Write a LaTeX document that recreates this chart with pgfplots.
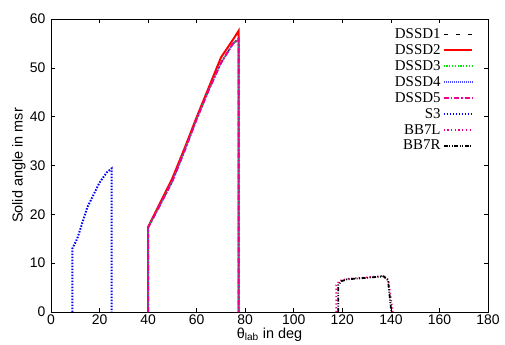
\documentclass[border=0pt]{standalone}
\usepackage{fontspec}
\setmainfont{Liberation Sans}
\newfontfamily\legserif{Liberation Serif}
\usepackage{pgfplots}
\pgfplotsset{compat=1.18}
\begin{document}
\begin{tikzpicture}
\begin{axis}[
  at={(0,0)}, anchor=south west,
  scale only axis, width=437bp, height=293bp,
  xmin=0, xmax=180, ymin=0, ymax=60,
  xtick={0,20,...,180}, ytick={0,10,...,60},
  tick align=inside, major tick length=4bp,
  tick style={black, line width=0.6pt},
  axis line style={line width=0.9pt},
  /pgf/number format/assume math mode=true,
  tick label style={font=\fontsize{14}{15}\selectfont},
  xticklabel style={yshift=1bp},
  yticklabel style={xshift=-2bp},
  label style={font=\fontsize{14.5}{16}\selectfont},
  xlabel={θ\textsubscript{lab} in deg},
  ylabel={Solid angle in msr},
  xlabel style={at={(axis description cs:0.5,0)}, anchor=base, yshift=-26bp},
  ylabel style={at={(axis description cs:0,0.5)}, anchor=center, rotate=0, xshift=0bp, yshift=32bp},
  clip=true,
  legend plot pos=right,
  legend cell align=right,
  legend image code/.code={\draw[#1] (0cm,0cm) -- (1cm,0cm);},
  legend style={draw=none, fill=none, at={(0.966,0.975)}, anchor=north east,
    font=\legserif\fontsize{15}{16}\selectfont,
    row sep=0.6pt, inner sep=0pt},
]
% DSSD1
\addplot[color=black, line width=1.2pt, dash pattern=on 4bp off 8bp] coordinates {
(40,0) (40,17.3) (45,22) (50,26.8) (55,33) (60,39.5) (65,45.5) (70,51) (75,55) (77.3,55.9) (77.3,0)};
\addlegendentry{DSSD1}
% DSSD2
\addplot[color=red, line width=2pt] coordinates {
(40,0) (40,17.4) (45,22.4) (50,27.4) (55,33.5) (60,39.9) (65,46.0) (70,52.1) (75,55.8) (77.3,57.6) (77.3,0)};
\addlegendentry{DSSD2}
% DSSD3
\addplot[color=green!90!black, line width=1.6pt, dash pattern=on 1.2bp off 1.6bp] coordinates {
(40,0) (40,17.3) (45,22) (50,26.8) (55,33) (60,39.5) (65,45.5) (70,51) (75,55) (77.3,55.9) (77.3,0)};
\addlegendentry{DSSD3}
% DSSD4
\addplot[color=blue!70!white, line width=1.4pt, dash pattern=on 1bp off 1bp] coordinates {
(40,0) (40,17.2) (45,21.9) (50,26.7) (55,32.9) (60,39.4) (65,45.4) (70,50.9) (75,54.9) (77.3,55.8) (77.3,0)};
\addlegendentry{DSSD4}
% DSSD5
\addplot[color=magenta, line width=2pt, dash pattern=on 5bp off 2bp on 1.5bp off 2bp] coordinates {
(40,0) (40,17.3) (45,22) (50,26.8) (55,33) (60,39.5) (65,45.5) (70,51) (75,55) (77.3,56) (77.3,0)};
\addlegendentry{DSSD5}
% S3
\addplot[color=blue, line width=2pt, dash pattern=on 1.5bp off 1.5bp] coordinates {
(8.8,0) (8.8,13) (10.8,15) (15,21.5) (20,26.5) (23,28.6) (25,29.4) (25,0)};
\addlegendentry{S3}
% BB7L
\addplot[color=magenta, line width=1.6pt, dash pattern=on 1.2bp off 2.5bp] coordinates {
(117.5,0) (117.5,5.5) (118.8,6.4) (122,6.8) (130,7.1) (137,7.4) (139,6.6) (140.8,0)};
\addlegendentry{BB7L}
% BB7R
\addplot[color=black, line width=1.8pt, dash pattern=on 4bp off 1.5bp on 1bp off 1.5bp on 1bp off 1.5bp] coordinates {
(118.3,0) (118.3,5.5) (119.5,6.3) (122,6.7) (130,7.0) (137,7.3) (138.8,6.5) (140.2,0)};
\addlegendentry{BB7R}
\end{axis}
\path[use as bounding box] (-51bp,-31bp) rectangle (454bp,312bp);
\end{tikzpicture}
\end{document}
